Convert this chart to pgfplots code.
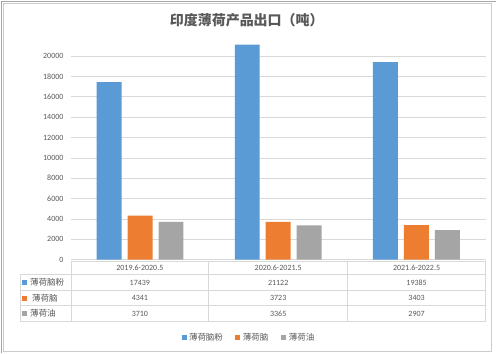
\documentclass[border=0pt]{standalone}
\usepackage{pgfplots}
\pgfplotsset{compat=1.18}
\usepackage{fontspec}
\setmainfont{Carlito}
\newfontfamily\cjk{Noto Sans CJK SC}
\definecolor{cblue}{HTML}{5B9BD5}
\definecolor{corange}{HTML}{ED7D31}
\definecolor{cgray}{HTML}{A5A5A5}
\definecolor{ctext}{HTML}{595959}
\definecolor{cgrid}{HTML}{D9D9D9}
\begin{document}
\begin{tikzpicture}[x=1pt,y=1pt]
\fill[white] (0,0) rectangle (496,353);
\draw[gray!70,line width=1pt] (1.5,0) -- (1.5,351.5) -- (496,351.5);
\draw[gray!40] (3,1) rectangle (492,350);
\begin{axis}[
  at={(71pt,93pt)}, anchor=south west,
  width=415pt, height=224.4pt, scale only axis,
  xmin=-0.5, xmax=2.5, ymin=0, ymax=22000,
  ytick={0,2000,...,20000}, xtick=\empty,
  axis line style={draw=none},
  ymajorgrids, grid style={cgrid, line width=0.6pt},
  major tick length=0pt,
  scaled y ticks=false,
  /pgf/number format/assume math mode=true,
  /pgf/number format/set thousands separator={},
  yticklabel style={font=\fontsize{8}{9}\selectfont, text=ctext, xshift=-4pt},
  ybar=6pt, bar width=25pt,
  clip=false,
]
\addplot[fill=cblue, draw=none] coordinates {(0,17439) (1,21122) (2,19385)};
\addplot[fill=corange, draw=none] coordinates {(0,4341) (1,3723) (2,3403)};
\addplot[fill=cgray, draw=none] coordinates {(0,3710) (1,3365) (2,2907)};
\end{axis}
% title
\node[text=ctext, font=\cjk\bfseries\fontsize{14}{16}\selectfont] at (247,333) {印度薄荷产品出口（吨）};
% data table
\begin{scope}[cgrid, line width=0.6pt]
\draw (71,91) -- (486,91);
\foreach \yy in {78,62,47,31} \draw (20,\yy) -- (486,\yy);
\draw (20,78) -- (20,31);
\foreach \xx in {71,209,348,486} \draw (\xx,91) -- (\xx,31);
\end{scope}
\begin{scope}[every node/.style={text=ctext, font=\fontsize{8}{9}\selectfont, inner sep=0pt}]
\node at (140,84.5) {2019.6-2020.5};
\node at (278.5,84.5) {2020.6-2021.5};
\node at (417,84.5) {2021.6-2022.5};
\node at (140,70) {17439};
\node at (278.5,70) {21122};
\node at (417,70) {19385};
\node at (140,54.5) {4341};
\node at (278.5,54.5) {3723};
\node at (417,54.5) {3403};
\node at (140,39) {3710};
\node at (278.5,39) {3365};
\node at (417,39) {2907};
\end{scope}
\begin{scope}[every node/.style={text=ctext, font=\cjk\fontsize{8.5}{9}\selectfont, inner sep=0pt, anchor=west}]
\fill[cblue] (22.5,67.5) rectangle (27.5,72.5);
\node at (30,70) {薄荷脑粉};
\fill[corange] (22.5,52) rectangle (27.5,57);
\node at (32,54.5) {薄荷脑};
\fill[cgray] (22.5,36.5) rectangle (27.5,41.5);
\node at (30,39) {薄荷油};
% bottom legend
\fill[cblue] (182.5,12.5) rectangle (187.5,17.5);
\node at (189,15) {薄荷脑粉};
\fill[corange] (235.5,12.5) rectangle (240.5,17.5);
\node at (243,15) {薄荷脑};
\fill[cgray] (281.5,12.5) rectangle (286.5,17.5);
\node at (289,15) {薄荷油};
\end{scope}
\end{tikzpicture}
\end{document}
